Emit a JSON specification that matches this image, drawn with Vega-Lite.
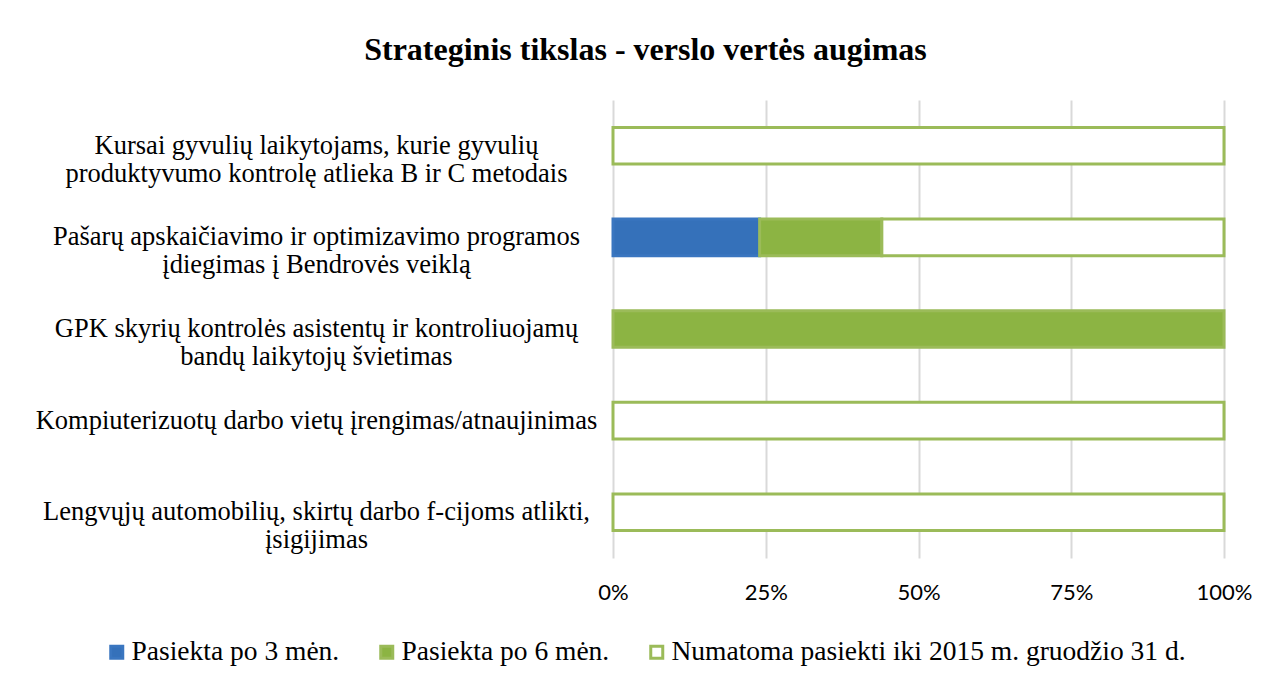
{
  "$schema": "https://vega.github.io/schema/vega-lite/v6.json",
  "width": 611,
  "height": 458,
  "autosize": {"type": "none"},
  "padding": {"left": 613, "top": 100, "right": 50, "bottom": 128},
  "background": "white",
  "title": {
    "text": "Strateginis tikslas - verslo vertės augimas",
    "font": "Liberation Serif",
    "fontSize": 32,
    "fontWeight": "bold",
    "color": "#000000",
    "anchor": "middle",
    "dx": -273,
    "offset": 33
  },
  "data": {
    "values": [
      {"cat": "Kursai gyvulių laikytojams, kurie gyvulių|produktyvumo kontrolę atlieka B ir C metodais", "s": "Numatoma pasiekti iki 2015 m. gruodžio 31 d.", "o": 3, "v": 100},
      {"cat": "Pašarų apskaičiavimo ir optimizavimo programos|įdiegimas į Bendrovės veiklą", "s": "Pasiekta po 3 mėn.", "o": 1, "v": 24},
      {"cat": "Pašarų apskaičiavimo ir optimizavimo programos|įdiegimas į Bendrovės veiklą", "s": "Pasiekta po 6 mėn.", "o": 2, "v": 20},
      {"cat": "Pašarų apskaičiavimo ir optimizavimo programos|įdiegimas į Bendrovės veiklą", "s": "Numatoma pasiekti iki 2015 m. gruodžio 31 d.", "o": 3, "v": 56},
      {"cat": "GPK skyrių kontrolės asistentų ir kontroliuojamų|bandų laikytojų švietimas", "s": "Pasiekta po 6 mėn.", "o": 2, "v": 100},
      {"cat": "Kompiuterizuotų darbo vietų įrengimas/atnaujinimas", "s": "Numatoma pasiekti iki 2015 m. gruodžio 31 d.", "o": 3, "v": 100},
      {"cat": "Lengvųjų automobilių, skirtų darbo f-cijoms atlikti,|įsigijimas", "s": "Numatoma pasiekti iki 2015 m. gruodžio 31 d.", "o": 3, "v": 100}
    ]
  },
  "mark": {"type": "bar", "strokeWidth": 3},
  "encoding": {
    "y": {
      "field": "cat",
      "type": "nominal",
      "sort": [
        "Kursai gyvulių laikytojams, kurie gyvulių|produktyvumo kontrolę atlieka B ir C metodais",
        "Pašarų apskaičiavimo ir optimizavimo programos|įdiegimas į Bendrovės veiklą",
        "GPK skyrių kontrolės asistentų ir kontroliuojamų|bandų laikytojų švietimas",
        "Kompiuterizuotų darbo vietų įrengimas/atnaujinimas",
        "Lengvųjų automobilių, skirtų darbo f-cijoms atlikti,|įsigijimas"
      ],
      "scale": {"paddingInner": 0.6, "paddingOuter": 0.3},
      "axis": {
        "title": null,
        "domain": false,
        "ticks": false,
        "labelExpr": "split(datum.label, '|')",
        "labelFont": "Liberation Serif",
        "labelFontSize": 26.5,
        "labelColor": "#000000",
        "labelAlign": "center",
        "labelBaseline": "middle",
        "labelLineHeight": 28,
        "labelPadding": 297,
        "labelLimit": 0
      }
    },
    "x": {
      "field": "v",
      "type": "quantitative",
      "stack": "zero",
      "scale": {"domain": [0, 100], "nice": false},
      "axis": {
        "title": null,
        "values": [0, 25, 50, 75, 100],
        "labelExpr": "datum.value + '%'",
        "labelFlush": false,
        "domain": false,
        "ticks": false,
        "grid": true,
        "gridColor": "#d9d9d9",
        "gridWidth": 2,
        "labelFont": "Lato",
        "labelFontSize": 22,
        "labelColor": "#000000",
        "labelPadding": 24
      }
    },
    "order": {"field": "o", "type": "quantitative"},
    "fill": {
      "field": "s",
      "type": "nominal",
      "scale": {
        "domain": ["Pasiekta po 3 mėn.", "Pasiekta po 6 mėn.", "Numatoma pasiekti iki 2015 m. gruodžio 31 d."],
        "range": ["#3571ba", "#8cb443", "#ffffff"]
      },
      "legend": {
        "title": null,
        "orient": "none",
        "direction": "horizontal",
        "legendX": -510,
        "legendY": 538,
        "symbolType": "square",
        "symbolSize": 144,
        "symbolStrokeWidth": 3,
        "labelFont": "Liberation Serif",
        "labelFontSize": 27.5,
        "labelColor": "#000000",
        "labelOffset": 1,
        "columnPadding": 33,
        "labelLimit": 0
      }
    },
    "stroke": {
      "field": "s",
      "type": "nominal",
      "scale": {
        "domain": ["Pasiekta po 3 mėn.", "Pasiekta po 6 mėn.", "Numatoma pasiekti iki 2015 m. gruodžio 31 d."],
        "range": ["#3a76c0", "#9bbb59", "#9bbb59"]
      },
      "legend": null
    }
  },
  "config": {"view": {"stroke": null}}
}
